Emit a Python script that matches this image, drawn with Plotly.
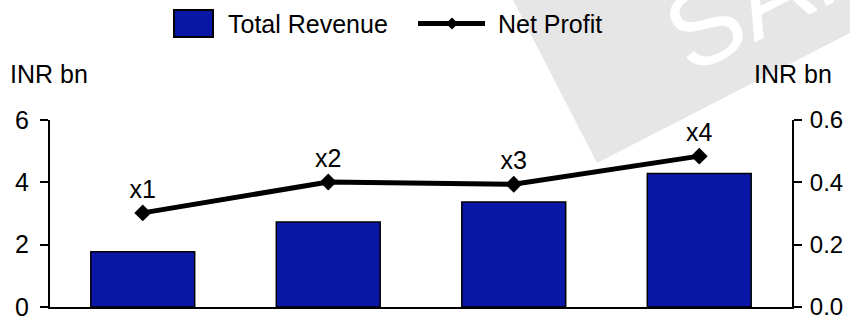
import plotly.graph_objects as go

categories = ["x1", "x2", "x3", "x4"]
revenue = [1.77, 2.73, 3.37, 4.28]
net_profit = [0.302, 0.401, 0.394, 0.484]
point_labels = ["x1", "x2", "x3", "x4"]
left_ticks = [0, 2, 4, 6]
right_ticks = [0.0, 0.2, 0.4, 0.6]

W, H = 850, 317
ML, MR, MT, MB = 50, 58, 120, 10
PW, PH = W - ML - MR, H - MT - MB

def px(x):
    return (x - ML) / PW

def py(y):
    return (H - MB - y) / PH

BLUE = "#0A16A6"
FONT = "Liberation Sans, Arial, Helvetica, sans-serif"
FS = 25

fig = go.Figure()
fig.add_trace(go.Bar(
    x=categories, y=revenue, name="Total Revenue",
    marker=dict(color=BLUE, line=dict(color="black", width=1.5)),
    yaxis="y", showlegend=False,
))
fig.add_trace(go.Scatter(
    x=categories, y=net_profit, name="Net Profit",
    mode="lines+markers+text", text=point_labels, textposition="top center",
    textfont=dict(size=FS, color="black", family=FONT),
    line=dict(color="black", width=5),
    marker=dict(symbol="diamond", size=13, color="black"),
    yaxis="y2", showlegend=False, cliponaxis=False,
))

shapes = []
# watermark band
band = [(513, 0), (597, 163), (850, 33), (850, 0)]
path = "M " + " L ".join(f"{px(a):.4f},{py(b):.4f}" for a, b in band) + " Z"
shapes.append(dict(type="path", xref="paper", yref="paper", path=path,
                   fillcolor="#E6E6E6", line=dict(width=0), layer="below"))
# legend swatch
shapes.append(dict(type="rect", xref="paper", yref="paper",
                   x0=px(174), x1=px(213), y0=py(37), y1=py(10),
                   fillcolor=BLUE, line=dict(color="black", width=2)))
shapes.append(dict(type="line", xref="paper", yref="paper",
                   x0=px(418), x1=px(485), y0=py(23.5), y1=py(23.5),
                   line=dict(color="black", width=5)))
d = 6
dpath = (f"M {px(452-d):.4f},{py(23.5):.4f} L {px(452):.4f},{py(23.5-d):.4f} "
         f"L {px(452+d):.4f},{py(23.5):.4f} L {px(452):.4f},{py(23.5+d):.4f} Z")
shapes.append(dict(type="path", xref="paper", yref="paper", path=dpath,
                   fillcolor="black", line=dict(width=0)))

annotations = [
    dict(text="SAMPLE", x=px(868), y=py(-58), xref="paper", yref="paper",
         showarrow=False, textangle=-27, font=dict(size=108, color="white", family=FONT),
         xanchor="center", yanchor="middle"),
    dict(text="Total Revenue", x=px(226), y=py(24), xref="paper", yref="paper",
         showarrow=False, xanchor="left", yanchor="middle",
         font=dict(size=FS, color="black", family=FONT)),
    dict(text="Net Profit", x=px(496), y=py(24), xref="paper", yref="paper",
         showarrow=False, xanchor="left", yanchor="middle",
         font=dict(size=FS, color="black", family=FONT)),
    dict(text="INR bn", x=px(8), y=py(74), xref="paper", yref="paper",
         showarrow=False, xanchor="left", yanchor="middle",
         font=dict(size=FS, color="black", family=FONT)),
    dict(text="INR bn", x=px(834), y=py(74), xref="paper", yref="paper",
         showarrow=False, xanchor="right", yanchor="middle",
         font=dict(size=FS, color="black", family=FONT)),
]

fig.update_layout(
    width=W, height=H,
    margin=dict(l=ML, r=MR, t=MT, b=MB, pad=0, autoexpand=False),
    paper_bgcolor="white", plot_bgcolor="rgba(0,0,0,0)",
    font=dict(family=FONT, size=FS, color="black"),
    bargap=0.44,
    shapes=shapes, annotations=annotations,
    xaxis=dict(type="category", range=[-0.5, 3.5], showline=True, linecolor="black",
               linewidth=2, showticklabels=False, ticks="", showgrid=False, zeroline=False,
               automargin=False),
    yaxis=dict(range=[0, 6], tickvals=left_ticks, showline=True, linecolor="black",
               linewidth=2, ticks="outside", ticklen=8, tickwidth=2, tickcolor="black",
               showgrid=False, zeroline=False, ticklabelstandoff=6,
               ticklabeloverflow="allow", automargin=False),
    yaxis2=dict(range=[0, 0.6], tickvals=right_ticks, tickformat=".1f", overlaying="y",
                side="right", showline=True, linecolor="black", linewidth=2,
                ticks="outside", ticklen=8, tickwidth=2, tickcolor="black",
                showgrid=False, zeroline=False, ticklabelstandoff=3,
                tickfont=dict(size=24, family=FONT, color="black"),
                ticklabeloverflow="allow", automargin=False),
)

fig.write_html("out.html", config={"displayModeBar": False},
               post_script="document.body.style.margin='0';document.body.style.overflow='hidden';")
